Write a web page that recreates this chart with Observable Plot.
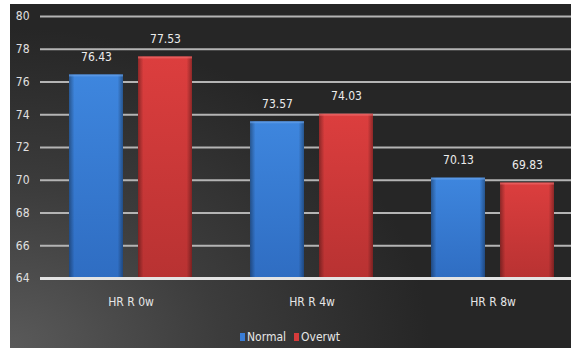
<!DOCTYPE html>
<html>
<head>
<meta charset="utf-8">
<script src="https://cdn.jsdelivr.net/npm/d3@7"></script>
<script src="https://cdn.jsdelivr.net/npm/@observablehq/plot@0.6"></script>
<style>
  html, body { margin: 0; padding: 0; background: #fff; width: 571px; height: 348px; overflow: hidden; }
  #wrap { position: absolute; left: 10px; top: 4px; width: 561px; height: 344px;
    background: radial-gradient(ellipse 420px 320px at 0% 100%, #5a5a5a 0%, #3c3c3c 50%, #262626 100%);
    background-color: #262626; }
  #chart svg { display: block; background: transparent; }
  #legend { position: absolute; left: 230px; top: 326px; font-family: "DejaVu Sans Condensed", "Open Sans", sans-serif;
    font-size: 12px; color: #e6e6e6; white-space: nowrap; }
  #legend span.sw { display: inline-block; width: 5px; height: 8px; margin-right: 2px; }
  #legend span.item { margin-right: 8px; }
</style>
</head>
<body>
<div id="wrap"><div id="chart"></div><div id="legend"></div></div>
<script>
const categories = ["HR R 0w", "HR R 4w", "HR R 8w"];
const series = ["Normal", "Overwt"];
const normalValues = [76.43, 73.57, 70.13];
const overwtValues = [77.53, 74.03, 69.83];
const yTicks = [64, 66, 68, 70, 72, 74, 76, 78, 80];

const table = [];
categories.forEach((c, i) => {
  table.push({category: c, series: "Normal", value: normalValues[i]});
  table.push({category: c, series: "Overwt", value: overwtValues[i]});
});

const font = '"DejaVu Sans Condensed", "Open Sans", sans-serif';

const plot = Plot.plot({
  width: 561,
  height: 344,
  marginTop: 12,
  marginBottom: 70,
  marginLeft: 30,
  marginRight: 0,
  style: {background: "transparent", color: "#e6e6e6", fontFamily: font, fontSize: "12px"},
  fx: {domain: categories, range: [30, 573], padding: 0, label: null},
  x: {domain: series, paddingInner: 0.214, paddingOuter: 0.4, axis: null},
  y: {domain: [64, 80], ticks: yTicks, label: null},
  color: {domain: series, range: ["url(#gradBlue)", "url(#gradRed)"]},
  facet: {data: table, x: "category"},
  marks: [
    Plot.axisY(yTicks, {tickSize: 0, tickPadding: 11, fontSize: 12, fill: "#e0e0e0"}),
    Plot.axisFx({anchor: "bottom", tickSize: 0, tickPadding: 19, fontSize: 12, fill: "#e6e6e6", label: null}),
    Plot.ruleY(yTicks.filter(t => t > 64), {stroke: "#b4b4b4", strokeWidth: 2}),
    Plot.barY(table, {x: "series", y1: 64, y2: "value", fill: "series"}),
    Plot.barY(table, {x: "series", y1: 64, y2: "value", fill: "url(#gradEdge)"}),
    Plot.barY(table, {x: "series", y1: d => d.value - 0.12, y2: "value", fill: d => d.series === "Normal" ? "#6aa3ea" : "#ee7070", fillOpacity: 0.6}),
    Plot.ruleY([64], {stroke: "#e4e4e4", strokeWidth: 3}),
    Plot.text(table, {x: "series", y: "value", text: d => d.value.toFixed(2), dy: -18, fill: "#ececec", fontSize: 12})
  ]
});

const defs = d3.select(plot).insert("defs", ":first-child");
function vgrad(id, top, bottom) {
  const g = defs.append("linearGradient").attr("id", id).attr("x1", "0").attr("x2", "0").attr("y1", "0").attr("y2", "1");
  g.append("stop").attr("offset", "0").attr("stop-color", top);
  g.append("stop").attr("offset", "1").attr("stop-color", bottom);
}
vgrad("gradBlue", "#3e86de", "#2f6dc2");
vgrad("gradRed", "#dc3e3e", "#b83232");
const e = defs.append("linearGradient").attr("id", "gradEdge").attr("x1", "0").attr("x2", "1").attr("y1", "0").attr("y2", "0");
[[0, 0.35], [0.1, 0], [0.9, 0], [1, 0.35]].forEach(([o, a]) =>
  e.append("stop").attr("offset", o).attr("stop-color", "#000").attr("stop-opacity", a));

document.getElementById("chart").appendChild(plot);

const legend = d3.select("#legend");
const swatchColors = {Normal: "#3a7dd6", Overwt: "#d63b3b"};
series.forEach(s => {
  const it = legend.append("span").attr("class", "item");
  it.append("span").attr("class", "sw").style("background", swatchColors[s]);
  it.append("span").text(s);
});
</script>
</body>
</html>
